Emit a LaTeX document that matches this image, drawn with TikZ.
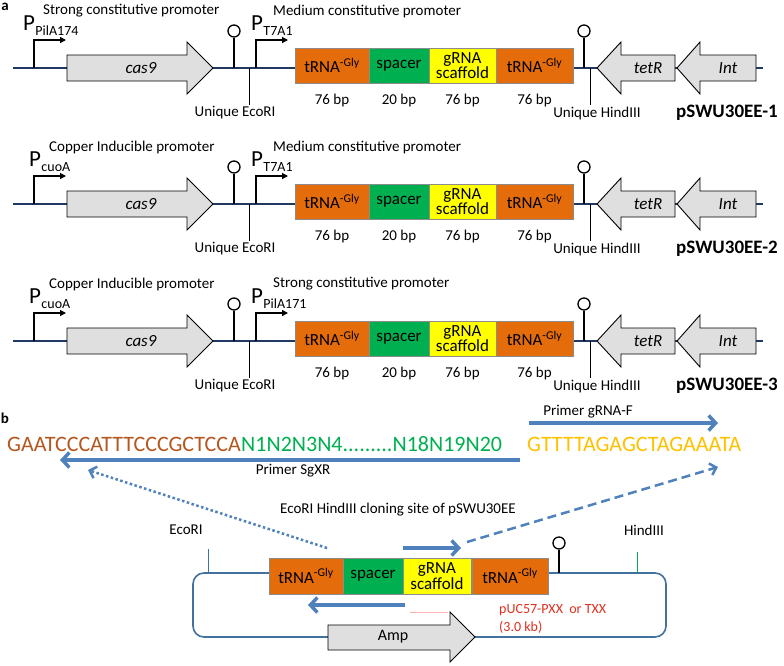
\documentclass[tikz,border=0pt]{standalone}
\usepackage{fontspec}
\setmainfont{Carlito}
\usetikzlibrary{arrows.meta,positioning,calc}
\definecolor{dna}{HTML}{1F3864}
\definecolor{trna}{HTML}{E46C0A}
\definecolor{spgreen}{HTML}{00B050}
\definecolor{scyellow}{HTML}{FFFF00}
\definecolor{primer}{HTML}{4F81BD}
\definecolor{seqbrown}{HTML}{B4561E}
\definecolor{seqgold}{HTML}{FFC000}
\definecolor{plasmid}{HTML}{41719C}
\definecolor{pucred}{HTML}{E0301E}
\begin{document}
\begin{tikzpicture}[x=1pt,y=-1pt,
    lbl/.style={font=\fontsize{15}{15}\selectfont,inner sep=0pt},
    panel/.style={font=\bfseries\fontsize{15}{15}\selectfont,inner sep=0pt},
    bigp/.style={font=\fontsize{23}{23}\selectfont,inner sep=0pt,anchor=west},
    subp/.style={font=\fontsize{14}{14}\selectfont,inner sep=0pt,anchor=west},
    pname/.style={font=\bfseries\fontsize{19}{19}\selectfont,inner sep=0pt,anchor=west},
    cassette/.style={draw=black!45,line width=0.5pt,minimum height=35pt,inner sep=0pt,
      outer sep=0pt,font=\fontsize{17}{15.5}\selectfont,align=center},
    gene/.style={draw=black,fill=gray!25,line width=0.9pt},
    genelbl/.style={font=\itshape\fontsize{17}{17}\selectfont,inner sep=0pt},
    dnaline/.style={draw=dna,line width=2.8pt},
    prom/.style={draw=black,line width=1.3pt,-{Triangle[length=6pt,width=6pt]}},
    term/.style={circle,draw=black,line width=1.3pt,minimum size=12pt,inner sep=0pt},
    stem/.style={draw=black,line width=1.3pt},
    site/.style={draw=black,line width=1pt},
    seq/.style={font=\fontsize{22}{22}\selectfont,inner sep=0pt,anchor=base west},
    primerarr/.style={draw=primer,line width=3.5pt,-{Straight Barb[length=7pt,width=15pt]}},
  ]
  \useasboundingbox (0,0) rectangle (784,665);

  % panel a: the three constructs
  \node[panel] (a) at (5,7) {a};
  \foreach \r/\y/\px/\ltxt/\lsub/\rtxt/\rsub in {
      1/68/23/{Strong constitutive promoter}/PilA174/{Medium constitutive promoter}/T7A1,
      2/204/29/{Copper Inducible promoter}/cuoA/{Medium constitutive promoter}/T7A1,
      3/341/29/{Copper Inducible promoter}/cuoA/{Strong constitutive promoter}/PilA171}{
    \coordinate (l\r) at (13,\y);
    \coordinate (r\r) at (763,\y);
    \draw[dnaline] (l\r) -- (r\r);
    % promoters
    \node[lbl,anchor=west] (lt\r) at (\px+20,\y-57) {\ltxt};
    \node[bigp] (pa\r) at (\px,\y-45) {P};
    \node[subp] (pas\r) at ([yshift=-8pt]pa\r.east) {\lsub};
    \coordinate (pra\r) at (34,\y);
    \coordinate (prb\r) at (66,\y-28);
    \draw[prom] (pra\r) |- (prb\r);
    \node[lbl,anchor=west] (rt\r) at (273,\y-57) {\rtxt};
    \node[bigp] (pb\r) at (251,\y-45) {P};
    \node[subp] (pbs\r) at ([yshift=-8pt]pb\r.east) {\rsub};
    \coordinate (pqa\r) at (256,\y);
    \coordinate (pqb\r) at (288,\y-28);
    \draw[prom] (pqa\r) |- (pqb\r);
    % cas9
    \draw[gene] (67,\y-13) -- (187,\y-13) -- (187,\y-26) -- (213,\y) -- (187,\y+26)
      -- (187,\y+13) -- (67,\y+13) -- cycle;
    \node[genelbl] (cas\r) at (141,\y) {cas9};
    % terminator and EcoRI
    \node[term] (ts\r) at (234,\y-37) {};
    \coordinate (tsb\r) at (234,\y);
    \draw[stem] (tsb\r) -- (ts\r);
    \coordinate (ea\r) at (249,\y);
    \coordinate (eb\r) at (249,\y+37);
    \draw[site] (ea\r) -- (eb\r);
    \node[lbl] (el\r) at (235,\y+45) {Unique EcoRI};
    % tRNA - spacer - scaffold - tRNA
    \node[cassette,fill=trna,minimum width=74pt] (t1\r) at (332,\y-2.5) {tRNA\textsuperscript{-Gly}};
    \node[cassette,fill=spgreen,minimum width=60pt,right=0pt of t1\r] (sp\r) {spacer};
    \node[cassette,fill=scyellow,minimum width=67pt,right=0pt of sp\r] (sc\r) {gRNA\\scaffold};
    \node[cassette,fill=trna,minimum width=77pt,right=0pt of sc\r] (t2\r) {tRNA\textsuperscript{-Gly}};
    \node[lbl,below=11pt of t1\r] (bpa\r) {76 bp};
    \node[lbl,below=11pt of sp\r] (bpb\r) {20 bp};
    \node[lbl,below=11pt of sc\r] (bpc\r) {76 bp};
    \node[lbl,below=11pt of t2\r] (bpd\r) {76 bp};
    % terminator and HindIII
    \node[term] (tt\r) at (584,\y-37) {};
    \coordinate (ttb\r) at (584,\y);
    \draw[stem] (ttb\r) -- (tt\r);
    \coordinate (ha\r) at (590,\y);
    \coordinate (hb\r) at (590,\y+37);
    \draw[site] (ha\r) -- (hb\r);
    \node[lbl] (hl\r) at (597,\y+45) {Unique HindIII};
    % tetR and Int
    \draw[gene] (675,\y-13) -- (621,\y-13) -- (621,\y-26) -- (597,\y) -- (621,\y+26)
      -- (621,\y+13) -- (675,\y+13) -- cycle;
    \node[genelbl] (tet\r) at (648,\y) {tetR};
    \draw[gene] (756,\y-13) -- (700,\y-13) -- (700,\y-26) -- (677,\y) -- (700,\y+26)
      -- (700,\y+13) -- (756,\y+13) -- cycle;
    \node[genelbl] (int\r) at (728,\y) {Int};
    \node[pname] (nm\r) at (676,\y+45) {pSWU30EE-\r};
  }

  % panel b: the spacer sequence and primers
  \node[panel] (b) at (5,418) {b};
  \node[seq,text=seqbrown] (s1) at (7,451) {GAATCCCATTTCCCGCTCCA};
  \node[seq,text=spgreen] (s2) at (s1.base east) {N1N2N3N4.........N18N19N20};
  \node[seq,text=seqgold] (s3) at (527,451) {GTTTTAGAGCTAGAAATA};
  \coordinate (fa) at (529,423);
  \coordinate (fb) at (718,423);
  \draw[primerarr] (fa) -- (fb);
  \node[lbl] (fl) at (588,412) {Primer gRNA-F};
  \coordinate (ra) at (520,460);
  \coordinate (rb) at (60,460);
  \draw[primerarr] (ra) -- (rb);
  \node[lbl] (rl) at (293,471) {Primer SgXR};

  % pUC57 plasmid with the cloning site
  \node[lbl] (cs) at (398,510) {EcoRI HindIII cloning site of pSWU30EE};
  \node[lbl] (eco) at (186,530) {EcoRI};
  \node[lbl] (hind) at (644,530) {HindIII};
  \coordinate (pltl) at (193,573);
  \coordinate (plbr) at (666,637);
  \draw[plasmid,line width=1.6pt,rounded corners=11pt] (pltl) rectangle (plbr);
  \coordinate (eta) at (208,549);
  \coordinate (etb) at (208,573);
  \draw[plasmid,line width=1pt] (eta) -- (etb);
  \coordinate (hta) at (637,552);
  \coordinate (htb) at (637,573);
  \draw[spgreen,line width=1pt] (hta) -- (htb);
  \node[term] (tp) at (559,543) {};
  \coordinate (tpb) at (559,573);
  \draw[stem] (tpb) -- (tp);
  \node[cassette,fill=trna,minimum width=74pt,minimum height=36pt] (t1p) at (306,576) {tRNA\textsuperscript{-Gly}};
  \node[cassette,fill=spgreen,minimum width=60pt,minimum height=36pt,right=0pt of t1p] (spp) {spacer};
  \node[cassette,fill=scyellow,minimum width=68pt,minimum height=36pt,right=0pt of spp] (scp) {gRNA\\scaffold};
  \node[cassette,fill=trna,minimum width=76pt,minimum height=36pt,right=1pt of scp] (t2p) {tRNA\textsuperscript{-Gly}};
  \draw[gene] (328,625) -- (450,625) -- (450,612) -- (475,637) -- (450,662) -- (450,650)
    -- (328,650) -- cycle;
  \node[font=\fontsize{16}{16}\selectfont,inner sep=0pt] (amp) at (393,637) {Amp};
  \coordinate (pka) at (410,612);
  \coordinate (pkb) at (448,612);
  \draw[red!30,line width=1pt] (pka) -- (pkb);
  \node[font=\fontsize{14}{14}\selectfont,text=pucred,inner sep=0pt,anchor=west] (puc) at (499,610) {pUC57-PXX\ \ or TXX};
  \node[font=\fontsize{14}{14}\selectfont,text=pucred,inner sep=0pt,anchor=west] (kb) at (499,627) {(3.0 kb)};
  \coordinate (ua) at (403,548);
  \coordinate (ub) at (461,548);
  \draw[primerarr] (ua) -- (ub);
  \coordinate (da) at (405,605);
  \coordinate (db) at (308,605);
  \draw[primerarr] (da) -- (db);
  \coordinate (dota) at (327,548);
  \coordinate (dotb) at (88,470);
  \draw[primerarr,line width=2.5pt,dash pattern=on 2.5pt off 2.5pt,
    -{Straight Barb[length=6pt,width=12pt]}] (dota) -- (dotb);
  \coordinate (dsa) at (467,542);
  \coordinate (dsb) at (718,467);
  \draw[primerarr,line width=2.5pt,dash pattern=on 9pt off 5pt,
    -{Straight Barb[length=6pt,width=12pt]}] (dsa) -- (dsb);
\end{tikzpicture}
\end{document}
